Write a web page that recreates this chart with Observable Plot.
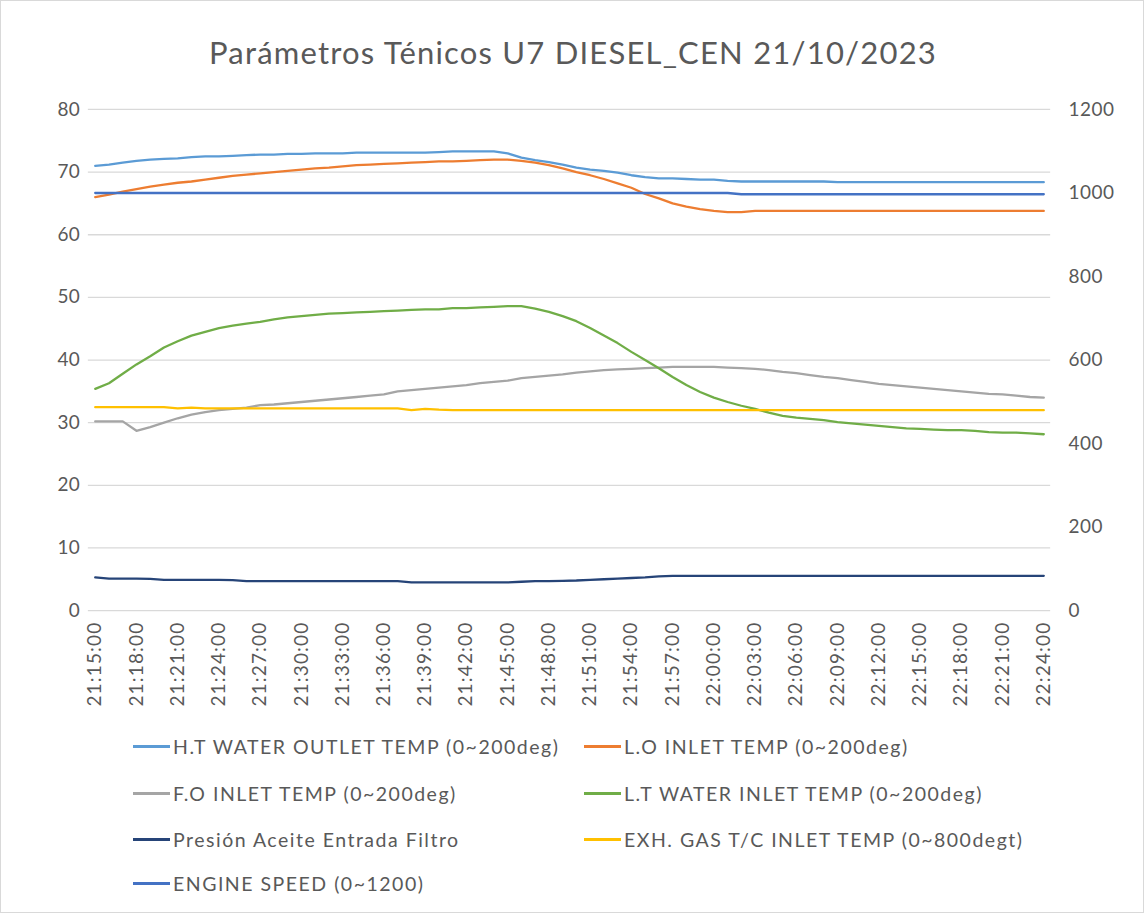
<!DOCTYPE html>
<html><head><meta charset="utf-8">
<script src="https://cdn.jsdelivr.net/npm/d3@7"></script>
<script src="https://cdn.jsdelivr.net/npm/@observablehq/plot@0.6"></script>
<style>
body{margin:0;background:#fff;font-family:Lato,"Open Sans",sans-serif;}
#wrap{position:relative;width:1144px;height:913px;box-sizing:border-box;border:1px solid #d9d9d9;overflow:hidden;background:#fff}
#title{position:absolute;left:0;top:31px;width:1144px;text-align:center;font-size:31px;letter-spacing:1.2px;color:#595959;line-height:40px}
#chart{position:absolute;left:0;top:90px}
#chart g[aria-label="x-axis tick label"] text{letter-spacing:1.2px}
#chart g[aria-label="y-axis tick label"] text{letter-spacing:0.5px}
.lg{position:absolute;display:flex;align-items:center;font-size:19.5px;letter-spacing:1.5px;color:#595959;white-space:nowrap}
.sw{width:37px;height:3px;margin-right:3px}
</style></head>
<body><div id="wrap"><div id="title">Parámetros Ténicos U7 DIESEL_CEN 21/10/2023</div><div id="chart"></div><div id="legend"></div></div>
<script>
const times = ["21:15:00","21:16:00","21:17:00","21:18:00","21:19:00","21:20:00","21:21:00","21:22:00","21:23:00","21:24:00",
"21:25:00","21:26:00","21:27:00","21:28:00","21:29:00","21:30:00","21:31:00","21:32:00","21:33:00","21:34:00",
"21:35:00","21:36:00","21:37:00","21:38:00","21:39:00","21:40:00","21:41:00","21:42:00","21:43:00","21:44:00",
"21:45:00","21:46:00","21:47:00","21:48:00","21:49:00","21:50:00","21:51:00","21:52:00","21:53:00","21:54:00",
"21:55:00","21:56:00","21:57:00","21:58:00","21:59:00","22:00:00","22:01:00","22:02:00","22:03:00","22:04:00",
"22:05:00","22:06:00","22:07:00","22:08:00","22:09:00","22:10:00","22:11:00","22:12:00","22:13:00","22:14:00",
"22:15:00","22:16:00","22:17:00","22:18:00","22:19:00","22:20:00","22:21:00","22:22:00","22:23:00","22:24:00"];

const xTickLabels = ["21:15:00","21:18:00","21:21:00","21:24:00","21:27:00","21:30:00","21:33:00","21:36:00","21:39:00","21:42:00","21:45:00","21:48:00","21:51:00","21:54:00","21:57:00","22:00:00","22:03:00","22:06:00","22:09:00","22:12:00","22:15:00","22:18:00","22:21:00","22:24:00"];
const leftTicks = [0,10,20,30,40,50,60,70,80];
const rightTicks = [0,200,400,600,800,1000,1200];

const htWater = [71.0,71.2,71.5,71.8,72.0,72.1,72.2,72.4,72.5,72.5,
72.6,72.7,72.8,72.8,72.9,72.9,73.0,73.0,73.0,73.1,
73.1,73.1,73.1,73.1,73.1,73.2,73.3,73.3,73.3,73.3,
73.0,72.3,71.9,71.6,71.2,70.7,70.4,70.2,69.9,69.5,
69.2,69.0,69.0,68.9,68.8,68.8,68.6,68.5,68.5,68.5,
68.5,68.5,68.5,68.5,68.4,68.4,68.4,68.4,68.4,68.4,
68.4,68.4,68.4,68.4,68.4,68.4,68.4,68.4,68.4,68.4];
const loInlet = [66.0,66.4,66.9,67.3,67.7,68.0,68.3,68.5,68.8,69.1,
69.4,69.6,69.8,70.0,70.2,70.4,70.6,70.7,70.9,71.1,
71.2,71.3,71.4,71.5,71.6,71.7,71.7,71.8,71.9,72.0,
72.0,71.8,71.5,71.1,70.6,70.0,69.5,68.9,68.2,67.5,
66.5,65.8,65.0,64.5,64.1,63.8,63.6,63.6,63.8,63.8,
63.8,63.8,63.8,63.8,63.8,63.8,63.8,63.8,63.8,63.8,
63.8,63.8,63.8,63.8,63.8,63.8,63.8,63.8,63.8,63.8];
const foInlet = [30.2,30.2,30.2,28.7,29.3,30.0,30.7,31.3,31.7,32.0,
32.2,32.4,32.8,32.9,33.1,33.3,33.5,33.7,33.9,34.1,
34.3,34.5,35.0,35.2,35.4,35.6,35.8,36.0,36.3,36.5,
36.7,37.1,37.3,37.5,37.7,38.0,38.2,38.4,38.5,38.6,
38.7,38.8,38.9,38.9,38.9,38.9,38.8,38.7,38.6,38.4,
38.1,37.9,37.6,37.3,37.1,36.8,36.5,36.2,36.0,35.8,
35.6,35.4,35.2,35.0,34.8,34.6,34.5,34.3,34.1,34.0];
const ltWater = [35.4,36.3,37.8,39.3,40.6,42.0,43.0,43.9,44.5,45.1,
45.5,45.8,46.1,46.5,46.8,47.0,47.2,47.4,47.5,47.6,
47.7,47.8,47.9,48.0,48.1,48.1,48.3,48.3,48.4,48.5,
48.6,48.6,48.2,47.7,47.0,46.2,45.1,43.9,42.7,41.3,
40.0,38.7,37.3,36.0,34.9,34.0,33.3,32.7,32.2,31.6,
31.1,30.8,30.6,30.4,30.1,29.9,29.7,29.5,29.3,29.1,
29.0,28.9,28.8,28.8,28.7,28.5,28.4,28.4,28.3,28.15];
const oilPressure = [5.3,5.1,5.1,5.1,5.05,4.9,4.9,4.9,4.9,4.9,
4.85,4.7,4.7,4.7,4.7,4.7,4.7,4.7,4.7,4.7,
4.7,4.7,4.7,4.5,4.5,4.5,4.5,4.5,4.5,4.5,
4.5,4.6,4.7,4.7,4.75,4.8,4.9,5.0,5.1,5.2,
5.3,5.45,5.55,5.55,5.55,5.55,5.55,5.55,5.55,5.55,
5.55,5.55,5.55,5.55,5.55,5.55,5.55,5.55,5.55,5.55,
5.55,5.55,5.55,5.55,5.55,5.55,5.55,5.55,5.55,5.55];
const exhGas = [487,487,487,487,487,487,484,486,484,484,
484,484,484,484,484,484,484,484,484,484,
484,484,484,480,483,481,480,480,480,480,
480,480,480,480,480,480,480,480,480,480,
480,480,480,480,480,480,480,480,480,480,
480,480,480,480,480,480,480,480,480,480,
480,480,480,480,480,480,480,480,480,480];
const engineSpeed = [1000,1000,1000,1000,1000,1000,1000,1000,1000,1000,
1000,1000,1000,1000,1000,1000,1000,1000,1000,1000,
1000,1000,1000,1000,1000,1000,1000,1000,1000,1000,
1000,1000,1000,1000,1000,1000,1000,1000,1000,1000,
1000,1000,1000,1000,1000,1000,1000,997,997,997,
997,997,997,997,997,997,997,997,997,997,
997,997,997,997,997,997,997,997,997,997];

const seriesNames = ["H.T WATER OUTLET TEMP (0~200deg)","L.O INLET TEMP (0~200deg)","F.O INLET TEMP (0~200deg)","L.T WATER INLET TEMP (0~200deg)","Presión Aceite Entrada Filtro","EXH. GAS T/C INLET TEMP (0~800degt)","ENGINE SPEED (0~1200)"];
const seriesColors = ["#5b9bd5","#ed7d31","#a5a5a5","#70ad47","#264478","#ffc000","#4472c4"];
const seriesValues = [htWater,loInlet,foInlet,ltWater,oilPressure,exhGas,engineSpeed];
const secondary = [false,false,false,false,false,true,true];
const ratio = 1200/80;

const rows = [];
seriesValues.forEach((vals,si)=>{
  vals.forEach((v,i)=>rows.push({t:times[i], s:seriesNames[si], v: secondary[si] ? v/ratio : v}));
});

const font = 'Lato, "Open Sans", sans-serif';
const chart = Plot.plot({
  width:1144, height:630,
  marginLeft:87, marginRight:93, marginTop:18, marginBottom:110,
  style:{fontFamily:font, color:"#595959", background:"transparent", overflow:"visible"},
  x:{type:"point", domain:times, padding:0.5, label:null},
  y:{domain:[0,80], label:null},
  marks:[
    Plot.gridY(leftTicks, {stroke:"#d9d9d9", strokeOpacity:1, strokeWidth:1.3}),
    Plot.axisY(leftTicks, {anchor:"left", tickSize:0, tickPadding:8, fontSize:19, label:null}),
    Plot.axisY(rightTicks.map(d=>d/ratio), {anchor:"right", tickSize:0, tickPadding:18, fontSize:19, label:null, tickFormat:d=>String(Math.round(d*ratio))}),
    Plot.axisX(xTickLabels, {anchor:"bottom", tickSize:0, tickPadding:11, tickRotate:-90, fontSize:19, label:null}),
    ...seriesNames.map((n,si)=>Plot.line(rows.filter(r=>r.s===n), {x:"t", y:"v", stroke:seriesColors[si], strokeWidth:2.3, curve:"linear"}))
  ]
});
document.getElementById("chart").appendChild(chart);

const legendPos = [[132,745],[583,745],[132,792],[583,792],[132,838],[583,838],[132,882]];
const lg = document.getElementById("legend");
seriesNames.forEach((n,i)=>{
  const d = document.createElement("div");
  d.className="lg";
  d.style.left = legendPos[i][0]+"px";
  d.style.top = (legendPos[i][1]-13)+"px";
  d.style.height="26px";
  d.innerHTML = `<div class="sw" style="background:${seriesColors[i]}"></div><span>${n}</span>`;
  lg.appendChild(d);
});
</script></body></html>
